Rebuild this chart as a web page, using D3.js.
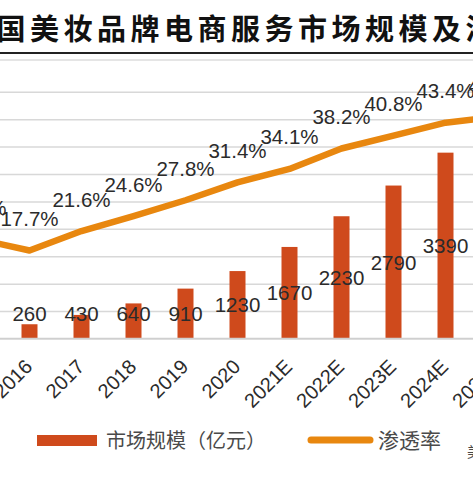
<!DOCTYPE html>
<html>
<head>
<meta charset="utf-8">
<script src="https://cdn.jsdelivr.net/npm/d3@7"></script>
<style>
  html, body { margin: 0; padding: 0; background: #ffffff; overflow: hidden; }
  svg { display: block; }
</style>
</head>
<body>
<script>
// ---- data ----
const categories = ["2015", "2016", "2017", "2018", "2019", "2020", "2021E", "2022E", "2023E", "2024E", "2025E"];
const marketSize = [170, 260, 430, 640, 910, 1230, 1670, 2230, 2790, 3390, 4000];           // 亿元
const penetration = [20.0, 17.7, 21.6, 24.6, 27.8, 31.4, 34.1, 38.2, 40.8, 43.4, 44.6];      // %
const gridValues = [0, 500, 1000, 1500, 2000, 2500, 3000, 3500, 4000, 4500];
const titleText = "中国美妆品牌电商服务市场规模及渗透率";
const legendBar = "市场规模（亿元）";
const legendLine = "渗透率";

// ---- layout ----
const W = 473, H = 477;
const plotBase = 338.5, plotTop = 60;
const barColor = "#cf4a1c", lineColor = "#e8870f";
const numFont = "'Liberation Sans', Arial, sans-serif";
const cjkFont = "'Noto Sans CJK SC', sans-serif";

const svg = d3.select("body").append("svg").attr("width", W).attr("height", H);
svg.append("rect").attr("width", W).attr("height", H).attr("fill", "#fff");

const x = d3.scaleBand().domain(categories).range([-48.5, 523.5])
  .paddingInner(36 / 52).paddingOuter(18 / 52);
const yBar = d3.scaleLinear().domain([0, 5080]).range([plotBase, plotTop]);
const yPct = d3.scaleLinear().domain([0, 56]).range([plotBase, plotTop]);
const cx = c => x(c) + x.bandwidth() / 2;

// title
svg.append("text")
  .attr("x", -37).attr("y", 40)
  .attr("font-family", cjkFont).attr("font-weight", 700)
  .attr("font-size", 29).attr("letter-spacing", "4.5px")
  .attr("fill", "#111")
  .text(titleText);
svg.append("line").attr("x1", 0).attr("x2", W).attr("y1", 53).attr("y2", 53)
  .attr("stroke", "#222").attr("stroke-width", 2);

// grid
const grid = d3.axisLeft(yBar).tickValues(gridValues).tickSize(-W - 10).tickFormat("");
const gg = svg.append("g").attr("transform", "translate(-5,0)").call(grid);
gg.select(".domain").remove();
gg.selectAll(".tick line").attr("stroke", "#d8d8d8").attr("stroke-width", 1.5);
svg.append("line").attr("x1", 0).attr("x2", W).attr("y1", plotTop).attr("y2", plotTop)
  .attr("stroke", "#dcdcdc").attr("stroke-width", 1.5);

// bars
svg.append("g").selectAll("rect").data(categories).join("rect")
  .attr("x", c => x(c))
  .attr("width", x.bandwidth())
  .attr("y", (c, i) => yBar(marketSize[i]))
  .attr("height", (c, i) => plotBase - yBar(marketSize[i]))
  .attr("fill", barColor);

// baseline
svg.append("line").attr("x1", 0).attr("x2", W).attr("y1", plotBase).attr("y2", plotBase)
  .attr("stroke", "#cfcfcf").attr("stroke-width", 1.5);

// line
const line = d3.line().x((d, i) => cx(categories[i])).y(d => yPct(d));
svg.append("path").datum(penetration)
  .attr("d", line)
  .attr("fill", "none").attr("stroke", lineColor).attr("stroke-width", 6.5)
  .attr("stroke-linejoin", "round").attr("stroke-linecap", "round");

// bar labels
svg.append("g").selectAll("text").data(categories).join("text")
  .attr("x", c => cx(c))
  .attr("y", (c, i) => Math.min((yBar(marketSize[i]) + plotBase) / 2, plotBase - 25) + 7.5)
  .attr("text-anchor", "middle")
  .attr("font-family", numFont).attr("font-size", 20.5).attr("fill", "#2b2b2b")
  .text((c, i) => marketSize[i]);

// line labels
svg.append("g").selectAll("text").data(categories).join("text")
  .attr("x", c => cx(c))
  .attr("y", (c, i) => yPct(penetration[i]) - 24.5)
  .attr("text-anchor", "middle")
  .attr("font-family", numFont).attr("font-size", 20.5).attr("fill", "#2b2b2b")
  .text((c, i) => penetration[i].toFixed(1) + "%");

// x axis labels
svg.append("g").selectAll("text").data(categories).join("text")
  .attr("transform", c => `translate(${cx(c) + 4},368) rotate(-45)`)
  .attr("text-anchor", "end")
  .attr("font-family", numFont).attr("font-size", 20).attr("fill", "#2b2b2b")
  .text(c => c);

// legend
svg.append("rect").attr("x", 37).attr("y", 435).attr("width", 60).attr("height", 11).attr("fill", barColor);
svg.append("text").attr("x", 106).attr("y", 448)
  .attr("font-family", cjkFont).attr("font-size", 20).attr("fill", "#4a4a4a")
  .text(legendBar);
svg.append("line").attr("x1", 311).attr("x2", 370).attr("y1", 440).attr("y2", 440)
  .attr("stroke", lineColor).attr("stroke-width", 7).attr("stroke-linecap", "round");
svg.append("text").attr("x", 378).attr("y", 448)
  .attr("font-family", cjkFont).attr("font-size", 21).attr("fill", "#4a4a4a")
  .text(legendLine);
svg.append("text").attr("x", 467).attr("y", 457)
  .attr("font-family", cjkFont).attr("font-size", 14).attr("fill", "#4a4a4a")
  .text("美");
</script>
</body>
</html>
